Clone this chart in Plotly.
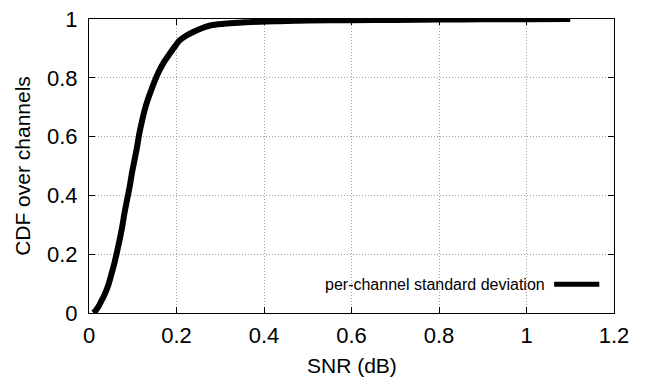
import plotly.graph_objects as go

snr_db = [0.010, 0.013, 0.020, 0.028, 0.036, 0.043, 0.050, 0.058, 0.064, 0.070, 0.076, 0.081,
          0.087, 0.093, 0.098, 0.104, 0.110, 0.115, 0.121, 0.127, 0.134, 0.142, 0.151,
          0.161, 0.172, 0.184, 0.196, 0.207, 0.222, 0.237, 0.255, 0.275, 0.295, 0.314,
          0.350, 0.390, 0.450, 0.500, 0.600, 0.700, 0.800, 0.900, 1.000, 1.100]
cdf = [0.000, 0.004, 0.018, 0.040, 0.064, 0.090, 0.125, 0.169, 0.208, 0.249, 0.294, 0.339,
       0.385, 0.430, 0.475, 0.520, 0.566, 0.610, 0.652, 0.689, 0.724, 0.757, 0.792,
       0.825, 0.855, 0.881, 0.906, 0.927, 0.943, 0.955, 0.967, 0.977, 0.982, 0.985,
       0.988, 0.991, 0.993, 0.995, 0.996, 0.997, 0.998, 0.999, 0.999, 1.000]
series_name = "per-channel standard deviation"
x_title = "SNR (dB)"
y_title = "CDF over channels"
x_ticks = [0, 0.2, 0.4, 0.6, 0.8, 1, 1.2]
y_ticks = [0, 0.2, 0.4, 0.6, 0.8, 1]

font = "Liberation Sans, Arial, Helvetica, sans-serif"

fig = go.Figure()
fig.add_trace(go.Scatter(x=snr_db, y=cdf, mode="lines", name=series_name,
                         line=dict(color="black", width=6, shape="spline", smoothing=0.8),
                         showlegend=False))

axis_common = dict(showline=True, linecolor="black", linewidth=1, mirror="ticks",
                   ticks="inside", ticklen=6, tickcolor="black",
                   showgrid=True, gridcolor="#a0a0a0", griddash="1px,2px", gridwidth=1,
                   zeroline=False, automargin=False, ticklabeloverflow="allow",
                   tickfont=dict(size=22, color="black", family=font))

fig.update_xaxes(range=[0, 1.2], tickvals=x_ticks, ticktext=[f"{v:g}" for v in x_ticks],
                 ticklabelstandoff=3, **axis_common)
fig.update_yaxes(range=[0, 1], tickvals=y_ticks, ticktext=[f"{v:g}" for v in y_ticks],
                 title=dict(text=y_title, font=dict(size=21, color="black", family=font), standoff=10),
                 ticklabelstandoff=6, **axis_common)

# x-axis title placed as an annotation for precise vertical position
fig.add_annotation(x=0.5, y=-0.177, xref="paper", yref="paper", text=x_title,
                   showarrow=False, xanchor="center", yanchor="middle",
                   font=dict(size=21, color="black", family=font))

# legend drawn as annotation + sample line (text left of sample, like the original)
fig.add_annotation(x=0.872, y=0.098, xref="paper", yref="paper", text=series_name,
                   showarrow=False, xanchor="right", yanchor="middle",
                   font=dict(size=16, color="black", family=font))
fig.add_shape(type="line", xref="paper", yref="paper", x0=0.886, x1=0.972, y0=0.098, y1=0.098,
              line=dict(color="black", width=5))

# page body adds an 8px offset, so the figure is sized/margined to compensate
fig.update_layout(width=642, height=369, margin=dict(l=81, r=36, t=11, b=64),
                  plot_bgcolor="white", paper_bgcolor="white",
                  font=dict(family=font, color="black"))

fig.write_html("out.html")
